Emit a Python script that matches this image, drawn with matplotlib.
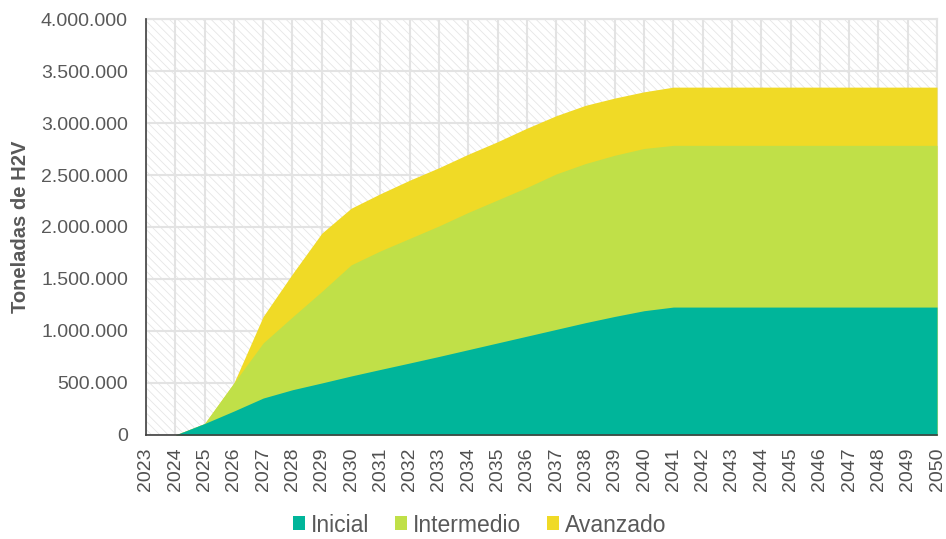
import matplotlib.pyplot as plt
import matplotlib as mpl

plt.rcParams['font.family'] = ['Liberation Sans', 'DejaVu Sans']
mpl.rcParams['hatch.linewidth'] = 0.6

years = list(range(2023, 2051))
# totales por escenario (toneladas de H2V)
inicial = [0, 0, 110000, 230000, 355000, 435000, 500000, 567000, 630000, 692000,
           755000, 820000, 885000, 950000, 1015000, 1080000, 1140000, 1195000,
           1230000, 1230000, 1230000, 1230000, 1230000, 1230000, 1230000,
           1230000, 1230000, 1230000]
intermedio = [0, 0, 110000, 500000, 885000, 1135000, 1380000, 1635000, 1770000,
              1890000, 2010000, 2140000, 2260000, 2380000, 2510000, 2610000,
              2690000, 2755000, 2785000, 2785000, 2785000, 2785000, 2785000,
              2785000, 2785000, 2785000, 2785000, 2785000]
avanzado = [0, 0, 110000, 500000, 1140000, 1550000, 1940000, 2180000, 2320000,
            2450000, 2570000, 2700000, 2820000, 2950000, 3070000, 3170000,
            3240000, 3300000, 3345000, 3345000, 3345000, 3345000, 3345000,
            3345000, 3345000, 3345000, 3345000, 3345000]
ytick_vals = [0, 500000, 1000000, 1500000, 2000000, 2500000, 3000000, 3500000, 4000000]
ytick_labels = ['0', '500.000', '1.000.000', '1.500.000', '2.000.000',
                '2.500.000', '3.000.000', '3.500.000', '4.000.000']

fig = plt.figure(figsize=(9.46, 5.39), dpi=100)
ax = fig.add_axes([0.1543, 0.193, 0.8362, 0.7717])

# fondo rayado
ax.patch.set_facecolor('white')
ax.patch.set_hatch('\\\\\\\\')
ax.patch.set_edgecolor('#e6e6e6')

ax.fill_between(years, avanzado, color='#F0DA26', lw=0, label='Avanzado', zorder=3)
ax.fill_between(years, intermedio, color='#C0E048', lw=0, label='Intermedio', zorder=4)
ax.fill_between(years, inicial, color='#00B59A', lw=0, label='Inicial', zorder=5)

ax.set_xlim(2023, 2050)
ax.set_ylim(0, 4000000)
ax.set_xticks(years)
ax.set_xticklabels([str(y) for y in years], rotation=90, fontsize=14, color='#505050')
ax.set_yticks(ytick_vals)
ax.set_yticklabels(ytick_labels, fontsize=14, color='#595959')
ax.tick_params(axis='y', length=0, pad=13)
ax.tick_params(axis='x', length=0, pad=9)
ax.grid(True, color='#e3e3e3', lw=1.5, zorder=1)
ax.set_axisbelow(True)

for s in ['top', 'right']:
    ax.spines[s].set_color('#e3e3e3')
    ax.spines[s].set_linewidth(1.5)
for s in ['left', 'bottom']:
    ax.spines[s].set_color('#404040')
    ax.spines[s].set_linewidth(1.2)
    ax.spines[s].set_zorder(6)

ax.set_ylabel('Toneladas de H2V', fontsize=14.5, fontweight='bold', color='#595959')
ax.yaxis.set_label_coords(-0.146, 0.5)

handles, labels = ax.get_legend_handles_labels()
fig.legend(handles[::-1], labels[::-1], loc='center', bbox_to_anchor=(0.507, 1 - 525 / 539),
           ncol=3, frameon=False, fontsize=16.5, handlelength=0.55, handleheight=0.55,
           handletextpad=0.25, columnspacing=1.1, labelcolor='#595959')

fig.savefig('out.png', dpi=100)
